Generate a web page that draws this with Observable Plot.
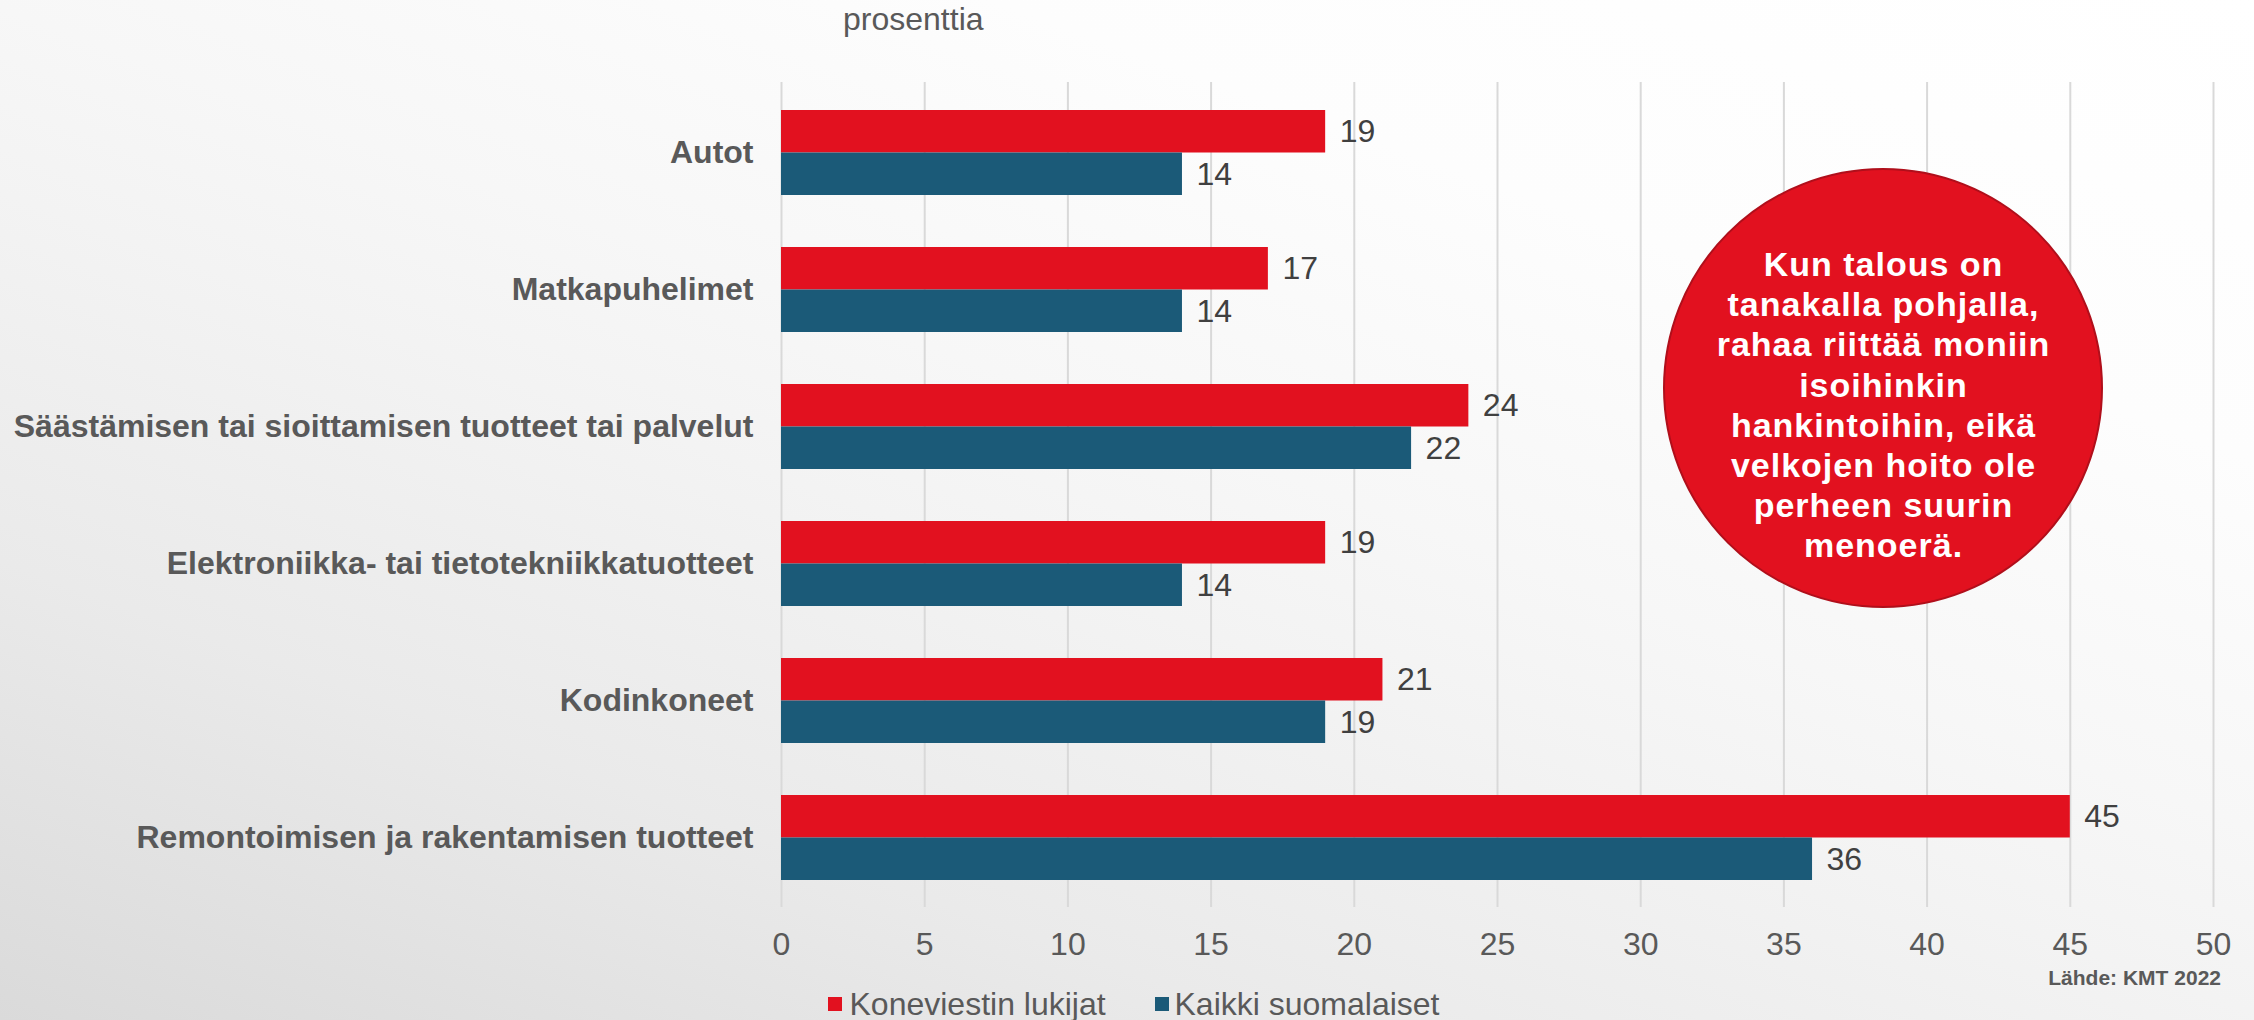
<!DOCTYPE html>
<html>
<head>
<meta charset="utf-8">
<script src="https://cdn.jsdelivr.net/npm/d3@7"></script>
<script src="https://cdn.jsdelivr.net/npm/@observablehq/plot@0.6"></script>
<style>
  html, body { margin: 0; padding: 0; }
  body { width: 2254px; height: 1020px; overflow: hidden; position: relative;
    font-family: "Liberation Sans", Arial, sans-serif;
    background: linear-gradient(20deg, #dadada 0%, #eaeaea 25%, #f3f3f3 45%, #f7f7f7 55%, #fdfdfd 75%, #ffffff 100%); }
  #title { position: absolute; left: 843px; top: 3px; font-size: 32px; line-height: 32px; color: #595959; }
  #chart { position: absolute; left: 0; top: 60px; }
  #source { position: absolute; right: 33px; top: 967px; font-size: 21px; line-height: 21px; font-weight: bold; color: #595959; }
  .leg { position: absolute; top: 988px; font-size: 32px; line-height: 32px; color: #595959; white-space: nowrap; }
  .sw { position: absolute; width: 14px; height: 14px; top: 997px; }
  #bubble { position: absolute; left: 1663px; top: 168px; width: 440px; height: 440px; box-sizing: border-box;
    border-radius: 50%; background: #e2111f; border: 2px solid #b00f1b; }
  #bubbleText { position: absolute; left: 1663px; width: 440px; top: 244px; text-align: center;
    font-size: 34px; line-height: 40.2px; font-weight: bold; color: #ffffff; letter-spacing: 1px; padding-left: 1px; box-sizing: border-box; }
</style>
</head>
<body>
<div id="title"></div>
<div id="chart"></div>
<div id="bubble"></div>
<div id="bubbleText"></div>
<div id="source"></div>
<div id="legend"></div>
<script>
const categories = [
  "Autot",
  "Matkapuhelimet",
  "Säästämisen tai sioittamisen tuotteet tai palvelut",
  "Elektroniikka- tai tietotekniikkatuotteet",
  "Kodinkoneet",
  "Remontoimisen ja rakentamisen tuotteet"
];
const series = ["Koneviestin lukijat", "Kaikki suomalaiset"];
const koneviestin = [19, 17, 24, 19, 21, 45];
const kaikki = [14, 14, 22, 14, 19, 36];
const xTicks = [0, 5, 10, 15, 20, 25, 30, 35, 40, 45, 50];
const colors = ["#e2111f", "#1b5a78"];
const titleText = "prosenttia";
const sourceText = "Lähde: KMT 2022";
const bubbleLines = [
  "Kun talous on",
  "tanakalla pohjalla,",
  "rahaa riittää moniin",
  "isoihinkin",
  "hankintoihin, eikä",
  "velkojen hoito ole",
  "perheen suurin",
  "menoerä."
];

const rows = categories.flatMap((c, i) => [
  {category: c, series: series[0], value: koneviestin[i]},
  {category: c, series: series[1], value: kaikki[i]}
]);
const redRows = rows.filter(d => d.series === series[0]);
const blueRows = rows.filter(d => d.series === series[1]);

const plot = Plot.plot({
  width: 2254,
  height: 910,
  marginTop: 22,
  marginBottom: 63,
  marginLeft: 781,
  marginRight: 41,
  style: {background: "transparent", fontFamily: "'Liberation Sans', Arial, sans-serif", fontSize: "32px", color: "#595959", overflow: "visible"},
  x: {domain: [0, 50]},
  y: {domain: categories, paddingInner: 0.382, paddingOuter: 0.191},
  color: {domain: series, range: colors},
  marks: [
    Plot.ruleX(xTicks, {stroke: "#d9d9d9", strokeWidth: 2}),
    Plot.barX(redRows, {x: "value", y: "category", fill: "series", insetBottom: 42.5}),
    Plot.barX(blueRows, {x: "value", y: "category", fill: "series", insetTop: 42.5}),
    Plot.text(redRows, {x: "value", y: "category", text: d => String(d.value), dx: 14, dy: -21.25, textAnchor: "start", fill: "#404040", fontSize: 32}),
    Plot.text(blueRows, {x: "value", y: "category", text: d => String(d.value), dx: 14, dy: 21.25, textAnchor: "start", fill: "#404040", fontSize: 32}),
    Plot.axisX({ticks: xTicks, tickSize: 0, tickPadding: 25, fontSize: 32, label: null}),
    Plot.axisY({tickSize: 0, tickPadding: 28, fontSize: 32, fontWeight: "bold", label: null})
  ]
});
document.getElementById("chart").appendChild(plot);

document.getElementById("title").textContent = titleText;
document.getElementById("source").textContent = sourceText;
document.getElementById("bubbleText").innerHTML = bubbleLines.map(l => `<div>${l}</div>`).join("");

const legend = document.getElementById("legend");
const legPos = [{sw: 828, tx: 849.5}, {sw: 1155, tx: 1174.5}];
series.forEach((s, i) => {
  const sw = document.createElement("div");
  sw.className = "sw";
  sw.style.left = legPos[i].sw + "px";
  sw.style.background = colors[i];
  legend.appendChild(sw);
  const t = document.createElement("div");
  t.className = "leg";
  t.style.left = legPos[i].tx + "px";
  t.textContent = s;
  legend.appendChild(t);
});
</script>
</body>
</html>
